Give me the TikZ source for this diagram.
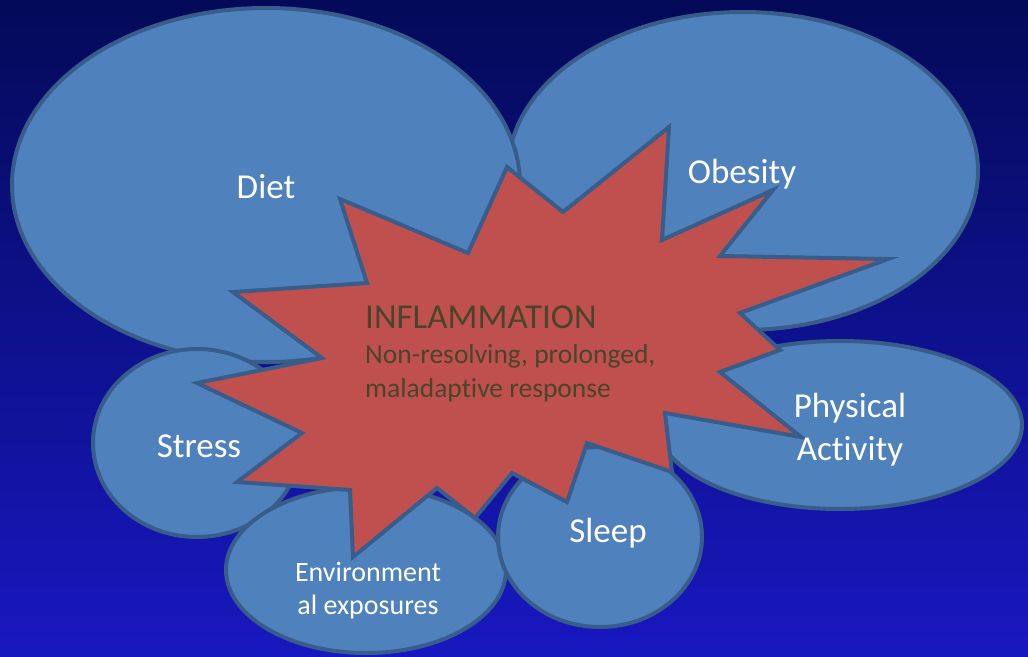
\documentclass[tikz,border=0pt]{standalone}
\usepackage{fontspec}
\setmainfont{Carlito}[Ligatures=NoCommon]
\usetikzlibrary{shapes.geometric}
\definecolor{skytop}{RGB}{4,10,88}
\definecolor{skybot}{RGB}{24,24,192}
\definecolor{blobfill}{RGB}{79,129,189}
\definecolor{blobedge}{RGB}{56,93,138}
\definecolor{burstfill}{RGB}{192,80,77}
\definecolor{bursttext}{RGB}{74,69,42}

\begin{document}
\begin{tikzpicture}[
    x=1pt, y=-1pt,
    blob/.style={ellipse, draw=blobedge, fill=blobfill, line width=4pt, inner sep=0pt},
    tag/.style={anchor=base, text=white, inner sep=0pt, font=\fontsize{35}{42}\selectfont},
    smalltag/.style={tag, font=\fontsize{28}{33}\selectfont},
    burst/.style={draw=blobedge, fill=burstfill, line width=4pt, line join=miter},
    head/.style={anchor=base west, text=bursttext, inner sep=0pt, font=\fontsize{35}{42}\selectfont},
    sub/.style={head, font=\fontsize{27.5}{34}\selectfont},
  ]
  \useasboundingbox (0,0) rectangle (1028,656);
  \shade[top color=skytop, bottom color=skybot] (0,0) rectangle (1028,656);

  % the six factors
  \node[blob, minimum width=470pt, minimum height=318pt] (obesity) at (743,171) {};
  \node[blob, minimum width=508pt, minimum height=354pt] (diet) at (266,185) {};
  \node[blob, minimum width=364pt, minimum height=168pt] (activity) at (840,425) {};
  \node[blob, minimum width=208pt, minimum height=188pt] (stress) at (197,443) {};
  \node[blob, minimum width=280pt, minimum height=166pt] (environ) at (366,570) {};
  \node[blob, minimum width=204pt, minimum height=180pt] (sleep) at (600,537) {};

  % the explosion in the middle
  \draw[burst] (507,167) -- (563,212) -- (669,127) -- (662,240) -- (773,190) -- (720,256)
    -- (888,259) -- (740,313) -- (780,350) -- (720,372) -- (801,437) -- (665,413)
    -- (672,472) -- (587,443) -- (567,502) -- (512,473) -- (475,518) -- (437,488)
    -- (353,557) -- (350,490) -- (237,482) -- (302,433) -- (197,383) -- (322,358)
    -- (233,292) -- (367,283) -- (340,199) -- (468,253) -- cycle;

  \node[tag] (dietlbl) at (266,198) {Diet};
  \node[tag] (obesitylbl) at (742,183) {Obesity};
  \node[tag] (stresslbl) at (199,457) {Stress};
  \node[tag] (physlbl) at (850,417) {Physical};
  \node[tag] (actlbl) at (850,460) {Act\kern0pt ivity};
  \node[tag] (sleeplbl) at (608,542) {Sleep};
  \node[smalltag] (envlbl) at (368,581) {Environment};
  \node[smalltag] (explbl) at (368,614) {al exposures};

  \node[head] (inflam) at (365,328) {INFLAMMATION};
  \node[sub] (nonres) at (365,363) {Non-resolving, prolonged,};
  \node[sub] (malad) at (365,397) {maladapt\kern0pt ive response};
\end{tikzpicture}
\end{document}
